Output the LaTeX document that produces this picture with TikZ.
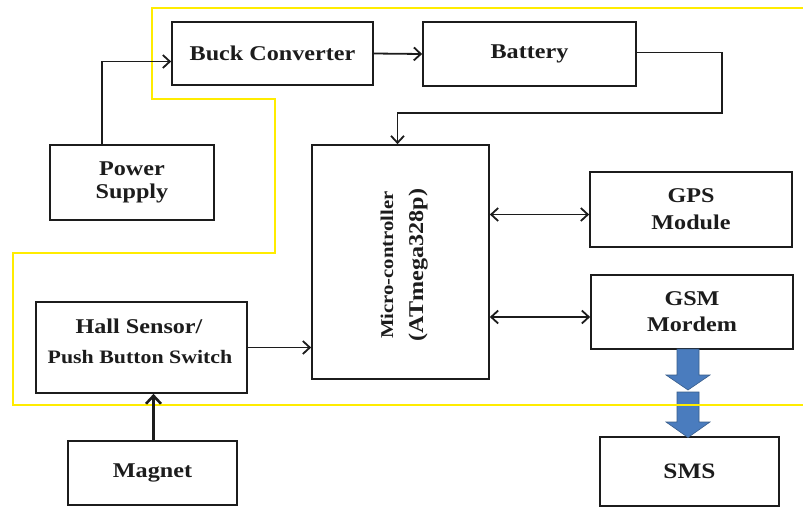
\documentclass[tikz,border=0pt]{standalone}
\usepackage{fontspec}
\setmainfont{Liberation Serif}[FakeStretch=1.15]
\usetikzlibrary{arrows.meta}
\definecolor{yel}{RGB}{255,236,0}
\definecolor{blk}{RGB}{28,28,28}
\definecolor{arrblue}{RGB}{74,124,190}
\definecolor{arredge}{RGB}{56,93,138}
\begin{document}
\begin{tikzpicture}[x=1pt,y=-1pt,
  box/.style={draw=blk, line width=1.7pt, inner sep=0pt, align=center, text=blk,
    font=\fontsize{21}{25}\selectfont\bfseries},
  lbl/.style={text=blk, inner sep=0pt, anchor=base},
  conn/.style={draw=blk, line width=1.8pt,
    -{Straight Barb[length=7pt,width=13pt,line width=1.8pt]}},
  biconn/.style={draw=blk, line width=1.8pt,
    {Straight Barb[length=7pt,width=13pt,line width=1.8pt]}-{Straight Barb[length=7pt,width=13pt,line width=1.8pt]}},
  blockarrow/.style={fill=arrblue, draw=arredge, line width=0.6pt},
  yline/.style={draw=yel, line width=2.6pt}]
\useasboundingbox (0,0) rectangle (803,507);
\fill[white] (0,0) rectangle (803,507);

% boxes
\node[box, minimum width=201pt, minimum height=63pt] (buck) at (272.5,53.5) {Buck Converter};
\node[box, minimum width=213pt, minimum height=64pt] (batt) at (529.5,54) {Battery};
\node[box, minimum width=164pt, minimum height=75pt] (power) at (132,182.5) {Power\\[-2pt]Supply};
\node[box, minimum width=177pt, minimum height=234pt] (mcu) at (400.5,262) {};
\node[lbl, rotate=90, font=\fontsize{18}{29}\selectfont\bfseries] (mcutext1) at (393,265) {Micro-controller};
\node[lbl, rotate=90, font=\fontsize{21}{29}\selectfont\bfseries] (mcutext2) at (423,265) {(ATmega328p)};
\node[box, minimum width=202pt, minimum height=75pt] (gps) at (691,209.5) {GPS\\[2pt]Module};
\node[box, minimum width=202pt, minimum height=74pt] (gsm) at (692,312) {GSM\\[1pt]Mordem};
\node[box, minimum width=211pt, minimum height=91pt] (hall) at (141.5,347.5) {};
\node[lbl, font=\fontsize{21}{25}\selectfont\bfseries] (halltext1) at (139,333) {Hall Sensor/};
\node[lbl, font=\fontsize{19}{25}\selectfont\bfseries] (halltext2) at (140,363) {Push Button Switch};
\node[box, line width=2.8pt, minimum width=169pt, minimum height=64pt] (magnet) at (152.5,473) {Magnet};
\node[box, minimum width=179pt, minimum height=69pt, font=\fontsize{22}{25}\selectfont\bfseries] (sms) at (689.5,471.5) {SMS};

% blue block arrows GSM -> SMS
\draw[blockarrow] (677,349) -- (699,349) -- (699,375) -- (710,375) -- (688,390)
  -- (666,375) -- (677,375) -- cycle;
\draw[blockarrow] (677,392) -- (699,392) -- (699,422) -- (710,422) -- (688,437.5)
  -- (666,422) -- (677,422) -- cycle;

% yellow outline
\draw[yline, line join=miter] (803,8) -- (152,8) -- (152,99) -- (275,99) -- (275,253)
  -- (13,253) -- (13,405) -- (803,405);

% connectors
\coordinate (bturn) at (722,113);
\coordinate (gpsin) at ([yshift=-5pt]gps.west);
\coordinate (gsmin) at ([yshift=-5pt]gsm.west);
\coordinate (magup) at ([xshift=1pt]magnet.north);
\draw[conn] ([xshift=-30pt]power.north) |- ([yshift=-8pt]buck.west);
\draw[conn] (buck.east) -- (batt.west);
\draw[conn] ([yshift=1.5pt]batt.east) -| (bturn) -| ([xshift=-3pt]mcu.north);
\draw[biconn] (gpsin -| mcu.east) -- (gpsin);
\draw[biconn] (gsmin -| mcu.east) -- (gsmin);
\draw[conn] (hall.east) -- (hall.east -| mcu.west);
\draw[draw=blk, line width=3pt, -{Straight Barb[length=8pt,width=15pt,line width=2.6pt]}]
  (magup) -- (magup |- hall.south);
\end{tikzpicture}
\end{document}
